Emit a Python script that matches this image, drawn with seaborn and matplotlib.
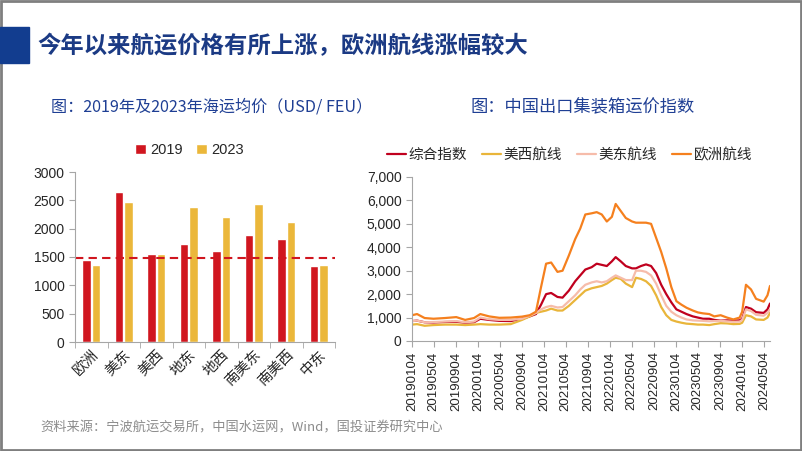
import pandas as pd
import numpy as np
import matplotlib
matplotlib.use('Agg')
import matplotlib.pyplot as plt
from matplotlib.patches import Rectangle
from matplotlib.ticker import FuncFormatter
import seaborn as sns

# ---- left chart: average ocean freight 2019 vs 2023 (USD/FEU) ----
routes = ['欧洲', '美东', '美西', '地东', '地西', '南美东', '南美西', '中东']
price_2019 = [1450, 2650, 1560, 1730, 1600, 1880, 1810, 1350]
price_2023 = [1360, 2470, 1545, 2390, 2205, 2430, 2110, 1360]
ref_level = 1480

# ---- right chart: CCFI indices ----
dates = [
    '2019-01-04', '2019-02-01', '2019-03-15', '2019-05-03', '2019-07-05', '2019-09-06', '2019-10-25', '2019-12-13',
    '2020-01-17', '2020-03-06', '2020-05-01', '2020-07-03', '2020-09-04', '2020-10-16', '2020-11-20', '2020-12-18',
    '2021-01-15', '2021-02-12', '2021-03-19', '2021-04-16', '2021-05-21', '2021-06-25', '2021-07-23', '2021-08-20',
    '2021-09-24', '2021-10-22', '2021-11-19', '2021-12-17',
    '2022-01-14', '2022-02-04', '2022-03-04', '2022-04-01', '2022-05-06', '2022-05-27', '2022-06-24', '2022-07-22',
    '2022-08-19', '2022-09-16', '2022-10-14', '2022-11-11', '2022-12-09',
    '2023-01-06', '2023-02-03', '2023-03-03', '2023-04-07', '2023-05-05', '2023-06-02', '2023-07-07', '2023-08-04',
    '2023-09-08', '2023-10-13', '2023-11-17', '2023-12-22',
    '2024-01-05', '2024-01-26', '2024-02-23', '2024-03-22', '2024-05-03', '2024-05-24', '2024-06-07',
]
composite = [
    850, 870, 800, 790, 810, 820, 780, 800,
    950, 900, 860, 850, 950, 1050, 1150, 1550,
    2000, 2050, 1880, 1850, 2150, 2550, 2800, 3050, 3150, 3300, 3250, 3200,
    3400, 3580, 3400, 3200, 3100, 3100, 3200, 3270, 3200, 2900, 2400, 2000, 1650,
    1350, 1250, 1150, 1050, 1000, 950, 950, 900, 870, 880, 870, 880,
    950, 1450, 1380, 1230, 1200, 1350, 1600,
]
us_west = [
    700, 720, 650, 680, 700, 700, 680, 700,
    720, 700, 700, 720, 900, 1050, 1200, 1250,
    1300, 1380, 1300, 1300, 1500, 1750, 1950, 2150, 2250, 2300, 2350, 2450,
    2600, 2700, 2650, 2450, 2300, 2700, 2650, 2550, 2350, 1950, 1450, 1100, 900,
    830, 780, 740, 720, 700, 700, 680, 720, 760, 750, 720, 730,
    780, 1100, 1050, 920, 900, 1000, 1200,
]
us_east = [
    850, 870, 800, 810, 830, 850, 800, 830,
    1000, 930, 900, 900, 950, 1080, 1200, 1350,
    1450, 1500, 1430, 1450, 1700, 1950, 2200, 2400, 2500, 2550, 2500, 2550,
    2700, 2800, 2700, 2600, 2600, 3000, 3000, 2950, 2800, 2450, 1950, 1500, 1250,
    1100, 1000, 920, 880, 870, 860, 840, 850, 860, 840, 820, 830,
    900, 1350, 1280, 1120, 1080, 1200, 1350,
]
europe = [
    1100, 1150, 980, 950, 980, 1020, 900, 980,
    1150, 1050, 990, 1000, 1040, 1100, 1250, 2300,
    3300, 3350, 2950, 3000, 3650, 4350, 4800, 5400, 5450, 5500, 5400, 5100,
    5300, 5850, 5550, 5250, 5100, 5050, 5050, 5050, 5000, 4400, 3800, 3100, 2300,
    1700, 1550, 1420, 1300, 1220, 1180, 1150, 1050, 1100, 1000, 920, 1000,
    1250, 2400, 2200, 1800, 1680, 1950, 2350,
]
series_names = ['综合指数', '美西航线', '美东航线', '欧洲航线']
series_colors = ['#c0001e', '#e9b53a', '#f6bcaa', '#f5801e']

title = '今年以来航运价格有所上涨，欧洲航线涨幅较大'
sub_left = '图：2019年及2023年海运均价（USD/ FEU）'
sub_right = '图：中国出口集装箱运价指数'
source = '资料来源：宁波航运交易所，中国水运网，Wind，国投证券研究中心'

sns.set_style('white')
plt.rcParams['font.family'] = ['Liberation Sans', 'Noto Sans CJK SC']
plt.rcParams['axes.edgecolor'] = '#a6a6a6'
plt.rcParams['axes.linewidth'] = 0.8

W, H = 802, 451
fig = plt.figure(figsize=(W / 100, H / 100), dpi=100)

# slide frame and header
fig.patches.append(Rectangle((0.0015, 0.002), 0.997, 0.995, transform=fig.transFigure,
                             fill=False, ec='#7f7f7f', lw=2))
fig.patches.append(Rectangle((0, 1 - 63 / H), 29 / W, 36 / H, transform=fig.transFigure,
                             color='#123d8f'))
fig.text(37 / W, 1 - 46 / H, title, fontsize=16.8, color='#1b3a84', va='center',
         family=['Noto Sans CJK SC'], fontweight='bold')
fig.text(51 / W, 1 - 107 / H, sub_left, fontsize=11.6, color='#1f3f94', va='center',
         family=['Noto Sans CJK SC'])
fig.text(470 / W, 1 - 107 / H, sub_right, fontsize=12.4, color='#1f3f94', va='center',
         family=['Noto Sans CJK SC'])
fig.text(40 / W, 1 - 428 / H, source, fontsize=9.5, color='#8c8c8c', va='center',
         family=['Noto Sans CJK SC'], style='italic')

# ---- left bar chart ----
ax1 = fig.add_axes([75 / W, 1 - 342 / H, 260 / W, 170 / H])
bars = pd.DataFrame({
    'route': routes * 2,
    'year': ['2019'] * len(routes) + ['2023'] * len(routes),
    'price': price_2019 + price_2023,
})
sns.barplot(data=bars, x='route', y='price', hue='year',
            palette={'2019': '#d0161f', '2023': '#ebb73a'}, saturation=1,
            width=0.58, gap=0.08, ax=ax1)
ax1.axhline(ref_level, color='#d0161f', ls='--', lw=1.5, dashes=(4, 2.5))
ax1.set_ylim(0, 3000)
ax1.set_xlim(-0.5, len(routes) - 0.5)
ax1.set_yticks(np.arange(0, 3001, 500))
ax1.set_xlabel('')
ax1.set_ylabel('')
ax1.set_xticks(np.arange(-0.5, len(routes), 1.0), minor=True)
ax1.tick_params(axis='x', which='major', length=0, pad=4)
ax1.tick_params(axis='x', which='minor', length=4, color='#a6a6a6', bottom=True)
ax1.tick_params(axis='y', length=4, color='#a6a6a6', left=True, labelsize=10)
for lab in ax1.get_xticklabels():
    lab.set_rotation(45)
    lab.set_ha('right')
    lab.set_rotation_mode('anchor')
    lab.set_fontsize(10.5)
sns.despine(ax=ax1)
ax1.legend(loc='center', bbox_to_anchor=(0.44, 1 + 22 / 170), ncol=2, frameon=False,
           handlelength=0.75, handleheight=0.75, handletextpad=0.3, columnspacing=0.9,
           fontsize=10.5)

# ---- right line chart ----
ax2 = fig.add_axes([412 / W, 1 - 341 / H, 358 / W, 164 / H])
lines = pd.DataFrame({
    'date': pd.to_datetime(dates * 4),
    'series': sum([[n] * len(dates) for n in series_names], []),
    'value': composite + us_west + us_east + europe,
})
sns.lineplot(data=lines, x='date', y='value', hue='series', hue_order=series_names,
             palette=dict(zip(series_names, series_colors)), linewidth=1.6, ax=ax2)
ax2.set_xlim(pd.Timestamp('2019-01-04'), pd.Timestamp('2024-06-07'))
ax2.set_ylim(0, 7000)
ax2.set_yticks(np.arange(0, 7001, 1000))
ax2.yaxis.set_major_formatter(FuncFormatter(lambda v, p: f'{int(v):,}'))
tick_dates = pd.date_range('2019-01-01', '2024-05-01', freq='4MS') + pd.Timedelta(days=3)
ax2.set_xticks(tick_dates)
ax2.set_xticklabels([d.strftime('%Y%m%d') for d in tick_dates], rotation=90, fontsize=9.5)
ax2.set_xlabel('')
ax2.set_ylabel('')
ax2.tick_params(axis='x', length=4, color='#a6a6a6', bottom=True)
ax2.tick_params(axis='y', length=4, color='#a6a6a6', left=True, labelsize=10)
sns.despine(ax=ax2)
h, l = ax2.get_legend_handles_labels()
ax2.legend(h, l, loc='center', bbox_to_anchor=(0.44, 1 + 22 / 164), ncol=4, frameon=False,
           handlelength=1.3, handletextpad=0.2, columnspacing=1.0, fontsize=10.5)

fig.savefig('out.png', dpi=100)
